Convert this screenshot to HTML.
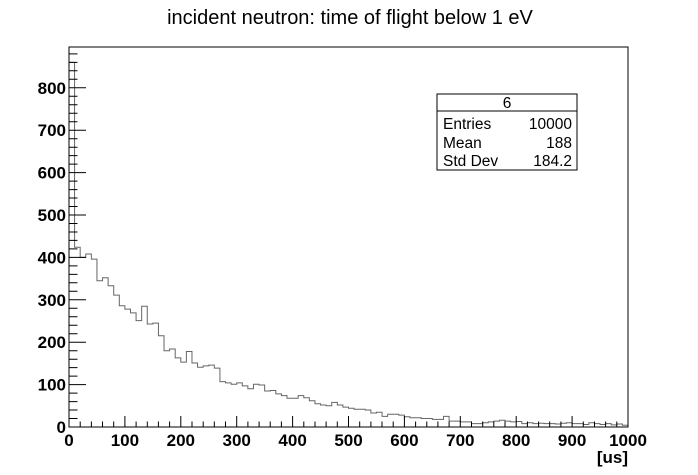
<!DOCTYPE html>
<html><head><meta charset="utf-8"><style>body{margin:0;background:#fff}svg{display:block}</style></head>
<body>
<svg width="698" height="475" viewBox="0 0 698 475" xmlns="http://www.w3.org/2000/svg" font-family="Liberation Sans, Arial, sans-serif">
<rect width="698" height="475" fill="#fff"/>
<text x="350" y="24" font-size="20" text-anchor="middle">incident neutron: time of flight below 1 eV</text>
<path fill="none" stroke="#666" stroke-width="1" d="M69 427 V62.4 h5.59 V247.2 h5.59 V257.4 h5.59 V254.0 h5.59 V259.1 h5.59 V280.7 h5.59 V277.8 h5.59 V285.8 h5.59 V295.1 h5.59 V305.7 h5.59 V309.1 h5.59 V312.9 h5.59 V320.6 h5.59 V306.2 h5.59 V324.0 h5.59 V323.1 h5.59 V335.8 h5.59 V350.7 h5.59 V349.0 h5.59 V357.9 h5.59 V362.1 h5.59 V351.5 h5.59 V363.0 h5.59 V367.2 h5.59 V365.9 h5.59 V365.1 h5.59 V368.1 h5.59 V381.6 h5.59 V382.9 h5.59 V384.2 h5.59 V382.9 h5.59 V385.9 h5.59 V388.8 h5.59 V384.2 h5.59 V385.0 h5.59 V391.0 h5.59 V390.5 h5.59 V393.9 h5.59 V395.6 h5.59 V398.2 h5.59 V398.2 h5.59 V395.6 h5.59 V397.7 h5.59 V400.7 h5.59 V403.7 h5.59 V405.0 h5.59 V405.8 h5.59 V402.4 h5.59 V405.0 h5.59 V407.1 h5.59 V408.3 h5.59 V409.2 h5.59 V409.2 h5.59 V410.0 h5.59 V413.0 h5.59 V412.2 h5.59 V416.4 h5.59 V414.3 h5.59 V414.3 h5.59 V415.1 h5.59 V416.8 h5.59 V417.7 h5.59 V417.7 h5.59 V418.5 h5.59 V418.5 h5.59 V419.4 h5.59 V419.4 h5.59 V416.4 h5.59 V421.1 h5.59 V421.1 h5.59 V421.9 h5.59 V421.9 h5.59 V423.6 h5.59 V423.6 h5.59 V422.8 h5.59 V421.9 h5.59 V421.1 h5.59 V420.2 h5.59 V421.1 h5.59 V421.9 h5.59 V421.5 h5.59 V423.6 h5.59 V422.8 h5.59 V423.6 h5.59 V423.2 h5.59 V423.6 h5.59 V423.6 h5.59 V424.0 h5.59 V423.2 h5.59 V422.8 h5.59 V423.6 h5.59 V423.6 h5.59 V424.5 h5.59 V422.8 h5.59 V423.6 h5.59 V424.5 h5.59 V423.6 h5.59 V424.9 h5.59 V424.0 h5.59 V425.3 h5.59 V427"/>
<rect x="69" y="47" width="559" height="380" fill="none" stroke="#000" stroke-width="1"/>
<g stroke="#000" stroke-width="1">
<path d="M69 427v-11M124.9 427v-11M180.8 427v-11M236.7 427v-11M292.6 427v-11M348.5 427v-11M404.4 427v-11M460.3 427v-11M516.2 427v-11M572.1 427v-11M628 427v-11"/>
<path d="M80.2 427v-5.5M91.4 427v-5.5M102.5 427v-5.5M113.7 427v-5.5M136.1 427v-5.5M147.3 427v-5.5M158.4 427v-5.5M169.6 427v-5.5M192 427v-5.5M203.2 427v-5.5M214.3 427v-5.5M225.5 427v-5.5M247.9 427v-5.5M259.1 427v-5.5M270.2 427v-5.5M281.4 427v-5.5M303.8 427v-5.5M315 427v-5.5M326.1 427v-5.5M337.3 427v-5.5M359.7 427v-5.5M370.9 427v-5.5M382 427v-5.5M393.2 427v-5.5M415.6 427v-5.5M426.8 427v-5.5M437.9 427v-5.5M449.1 427v-5.5M471.5 427v-5.5M482.7 427v-5.5M493.8 427v-5.5M505 427v-5.5M527.4 427v-5.5M538.6 427v-5.5M549.7 427v-5.5M560.9 427v-5.5M583.3 427v-5.5M594.5 427v-5.5M605.6 427v-5.5M616.8 427v-5.5"/>
<path d="M69 427h17M69 384.6h17M69 342.2h17M69 299.8h17M69 257.4h17M69 215h17M69 172.6h17M69 130.2h17M69 87.8h17"/>
<path d="M69 418.5h8.5M69 410h8.5M69 401.6h8.5M69 393.1h8.5M69 376.1h8.5M69 367.6h8.5M69 359.2h8.5M69 350.7h8.5M69 333.7h8.5M69 325.2h8.5M69 316.8h8.5M69 308.3h8.5M69 291.3h8.5M69 282.8h8.5M69 274.4h8.5M69 265.9h8.5M69 248.9h8.5M69 240.4h8.5M69 232h8.5M69 223.5h8.5M69 206.5h8.5M69 198h8.5M69 189.6h8.5M69 181.1h8.5M69 164.1h8.5M69 155.6h8.5M69 147.2h8.5M69 138.7h8.5M69 121.7h8.5M69 113.2h8.5M69 104.8h8.5M69 96.3h8.5M69 79.3h8.5M69 70.8h8.5M69 62.4h8.5M69 53.9h8.5"/>
</g>
<g font-size="17" font-weight="bold" text-anchor="end">
<text x="66" y="433">0</text><text x="66" y="390.6">100</text><text x="66" y="348.2">200</text><text x="66" y="305.8">300</text><text x="66" y="263.4">400</text><text x="66" y="221">500</text><text x="66" y="178.6">600</text><text x="66" y="136.2">700</text><text x="66" y="93.8">800</text>
</g>
<g font-size="17" font-weight="bold" text-anchor="middle">
<text x="69" y="446">0</text><text x="124.9" y="446">100</text><text x="180.8" y="446">200</text><text x="236.7" y="446">300</text><text x="292.6" y="446">400</text><text x="348.5" y="446">500</text><text x="404.4" y="446">600</text><text x="460.3" y="446">700</text><text x="516.2" y="446">800</text><text x="572.1" y="446">900</text><text x="628" y="446">1000</text>
</g>
<text x="628" y="463" font-size="17" font-weight="bold" text-anchor="end">[us]</text>
<rect x="437" y="94" width="140" height="76" fill="#fff" stroke="#000" stroke-width="1"/>
<line x1="437" y1="111" x2="577" y2="111" stroke="#000"/>
<g font-size="15.5">
<text x="507" y="108" text-anchor="middle">6</text>
<text x="443" y="129">Entries</text><text x="572" y="129" text-anchor="end">10000</text>
<text x="443" y="148">Mean</text><text x="572" y="148" text-anchor="end">188</text>
<text x="443" y="166">Std Dev</text><text x="572" y="166" text-anchor="end">184.2</text>
</g>
</svg>
</body></html>
